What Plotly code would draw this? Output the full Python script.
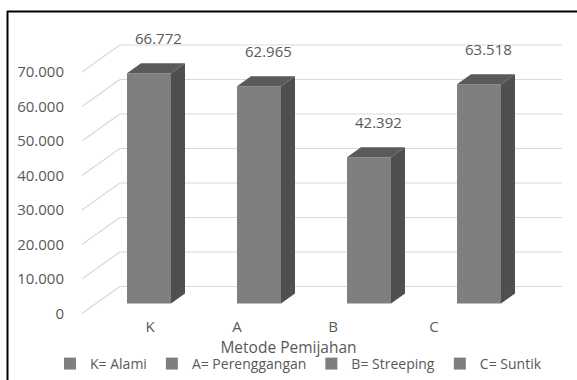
import plotly.graph_objects as go

# ---- data -------------------------------------------------------------
CATEGORIES = ["K", "A", "B", "C"]
LEGEND_NAMES = ["K= Alami", "A= Perenggangan", "B= Streeping", "C= Suntik"]
VALUES = [66772, 62965, 42392, 63518]
Y_TICKS = [0, 10000, 20000, 30000, 40000, 50000, 60000, 70000]
AXIS_TITLE = "Metode Pemijahan"

# ---- canvas / oblique projection (pixels) -----------------------------
W, H = 577, 380
PX_PER_VALUE = 0.00345          # vertical pixels per unit of value
ZERO_PX = 303.5                 # screen y of value 0 on the bar front plane
FIRST_CENTER_PX = 149           # screen x of the first bar centre
CAT_STEP_PX = 110               # screen distance between bar centres
BAR_HALF = 0.2                  # half bar width, category units
DEPTH_DX, DEPTH_DY = 1.4, 1.0   # screen shift per pixel of depth
BAR_DEPTH = 10                  # bar depth (px)
FRONT_EDGE = -10                # floor front edge, relative to bar fronts
BACK_WALL = 17                  # back wall, relative to bar fronts
FLOOR_LEFT_PX = 82
WALL_RIGHT_PX = 562
TICK_NUDGE_PX = [1, -22, -36, -45]   # category labels sit on the sloped floor edge

FRONT = "#7f7f7f"
SIDE = "#4f4f4f"
TOP = "#5a5a5a"
GRID = "#d9d9d9"
TEXT = "#595959"
FONT = "Open Sans"


def px_to_x(px):
    return (px - FIRST_CENTER_PX) / CAT_STEP_PX


def depth_shift(d):
    """Offsets (category units, value units) for moving d pixels deeper."""
    return d * DEPTH_DX / CAT_STEP_PX, d * DEPTH_DY / PX_PER_VALUE


x_range = [px_to_x(0), px_to_x(W)]
y_range = [(ZERO_PX - H) / PX_PER_VALUE, ZERO_PX / PX_PER_VALUE]

fig = go.Figure()

# ---- walls: gridlines on the left side wall and on the back wall ------
shapes = []
fx, fy = depth_shift(FRONT_EDGE)
bx, by = depth_shift(BACK_WALL)
left_front = px_to_x(FLOOR_LEFT_PX)
left_back = left_front + (bx - fx)
right_end = px_to_x(WALL_RIGHT_PX)
for t in Y_TICKS:
    shapes.append(dict(type="line", layer="below", xref="x", yref="y",
                       x0=left_front, y0=t + fy, x1=left_back, y1=t + by,
                       line=dict(color=GRID, width=1.2)))
    shapes.append(dict(type="line", layer="below", xref="x", yref="y",
                       x0=left_back, y0=t + by, x1=right_end, y1=t + by,
                       line=dict(color=GRID, width=1.2)))

# chart frame
shapes.append(dict(type="line", xref="paper", yref="paper",
                   x0=7 / W, y0=1 - 11.5 / H, x1=1, y1=1 - 11.5 / H,
                   line=dict(color="black", width=2)))
shapes.append(dict(type="line", xref="paper", yref="paper",
                   x0=7.5 / W, y0=1 - 11 / H, x1=7.5 / W, y1=0,
                   line=dict(color="black", width=2)))

# ---- 3D columns --------------------------------------------------------
dx, dy = depth_shift(BAR_DEPTH)
annotations = []
for i, (name, v) in enumerate(zip(LEGEND_NAMES, VALUES)):
    fig.add_trace(go.Bar(x=[i], y=[v], width=2 * BAR_HALF, name=name,
                         marker=dict(color=FRONT, line=dict(width=0)),
                         hoverinfo="skip"))
    l, r = i - BAR_HALF, i + BAR_HALF
    # right side face
    fig.add_trace(go.Scatter(x=[r, r + dx, r + dx, r, r],
                             y=[0, dy, v + dy, v, 0],
                             fill="toself", fillcolor=SIDE, mode="lines",
                             line=dict(width=0, color=SIDE),
                             showlegend=False, hoverinfo="skip"))
    # top face
    fig.add_trace(go.Scatter(x=[l, l + dx, r + dx, r, l],
                             y=[v, v + dy, v + dy, v, v],
                             fill="toself", fillcolor=TOP, mode="lines",
                             line=dict(width=0, color=TOP),
                             showlegend=False, hoverinfo="skip"))
    annotations.append(dict(x=i + dx / 2 + 0.02, y=v + dy, xref="x", yref="y",
                            text=f"{v:,}".replace(",", "."), showarrow=False,
                            yanchor="bottom", yshift=13,
                            font=dict(family=FONT, size=15, color=TEXT)))

# empty trace so the value axis on the front edge is drawn
fig.add_trace(go.Scatter(x=[None], y=[None], yaxis="y2",
                         showlegend=False, hoverinfo="skip"))

fig.update_layout(
    width=W, height=H, autosize=False,
    margin=dict(l=0, r=0, t=0, b=0),
    paper_bgcolor="white", plot_bgcolor="rgba(0,0,0,0)",
    separators=",.",
    barmode="overlay",
    hovermode=False,
    shapes=shapes,
    annotations=annotations,
    font=dict(family=FONT, color=TEXT),
    xaxis=dict(range=x_range, showgrid=False, zeroline=False, showline=False,
               ticks="", anchor="free", position=1 - 316 / H,
               tickvals=[i + px_to_x(FIRST_CENTER_PX + n) for i, n in enumerate(TICK_NUDGE_PX)],
               ticktext=CATEGORIES,
               tickfont=dict(family=FONT, size=15, color=TEXT),
               title=dict(text=AXIS_TITLE, standoff=0,
                          font=dict(family=FONT, size=15.5, color=TEXT))),
    yaxis=dict(range=y_range, showgrid=False, zeroline=False, showline=False,
               showticklabels=False, ticks=""),
    yaxis2=dict(range=[y_range[0] - fy, y_range[1] - fy], overlaying="y",
                anchor="free", position=64 / W, side="left",
                tickvals=Y_TICKS, tickformat=",d", ticks="",
                showgrid=False, zeroline=False, showline=False,
                tickfont=dict(family=FONT, size=15, color=TEXT)),
    legend=dict(orientation="h", x=50 / W, xanchor="left",
                y=0, yanchor="bottom", bgcolor="rgba(0,0,0,0)",
                font=dict(family=FONT, size=14, color=TEXT)),
)

fig.write_html("out.html")
